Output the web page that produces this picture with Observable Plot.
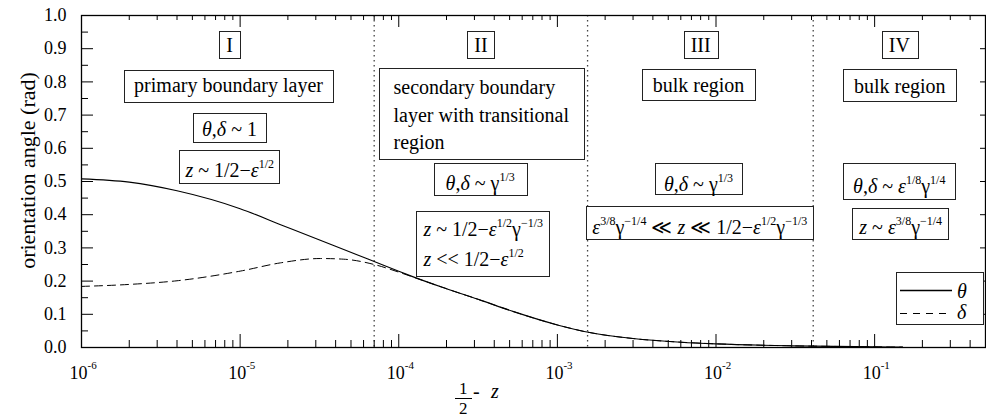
<!DOCTYPE html>
<html>
<head>
<meta charset="utf-8">
<script src="https://cdn.jsdelivr.net/npm/d3@7"></script>
<script src="https://cdn.jsdelivr.net/npm/@observablehq/plot@0.6"></script>
<style>
  html, body { margin: 0; padding: 0; background: #fff; }
  #wrap { position: relative; width: 986px; height: 417px; font-family: "Liberation Serif", "Times New Roman", serif; color: #000; }
  .ov { position: absolute; white-space: nowrap; }
</style>
</head>
<body>
<div id="wrap"></div>
<script>
// ---------------- data ----------------
const seriesNames = ["θ", "δ"];
const halfMinusZ  = [1e-6, 2e-6, 4e-6, 1e-5, 1.8e-5, 3.2e-5, 4.5e-5, 7e-5, 1e-4, 1.2e-4, 2e-4, 3.3e-4, 5.3e-4, 1e-3, 1.6e-3, 3e-3, 6e-3, 1e-2, 3e-2, 0.1, 0.15];
const thetaValues = [0.508, 0.498, 0.472, 0.418, 0.370, 0.323, 0.295, 0.259, 0.230, 0.215, 0.177, 0.142, 0.108, 0.068, 0.045, 0.027, 0.016, 0.011, 0.005, 0.002, 0.001];
const deltaValues = [0.184, 0.190, 0.201, 0.230, 0.255, 0.268, 0.266, 0.250, 0.227, 0.214, 0.177, 0.142, 0.108, 0.068, 0.045, 0.027, 0.016, 0.011, 0.005, 0.002, 0.001];
const regionBoundaries = [7.0e-5, 1.55e-3, 4.1e-2];
const xMajorTicks = [1e-6, 1e-5, 1e-4, 1e-3, 1e-2, 1e-1];
const xTickExponents = ["-6", "-5", "-4", "-3", "-2", "-1"];
const yMajorTicks = [0, 0.1, 0.2, 0.3, 0.4, 0.5, 0.6, 0.7, 0.8, 0.9, 1.0];
const yMinorTicks = [0.05, 0.15, 0.25, 0.35, 0.45, 0.55, 0.65, 0.75, 0.85, 0.95];
const yTickLabels = ["0.0", "0.1", "0.2", "0.3", "0.4", "0.5", "0.6", "0.7", "0.8", "0.9", "1.0"];
const yLabel = "orientation angle (rad)";
const xLabelNum = "1", xLabelDen = "2", xLabelRest = ["-", "z"];

// annotations: text (with *italic* and ^{superscript} markup), anchor in data space, box id
const annotations = [
  {text: "I", x: 8.57e-6, y: 0.909, box: "regI"},
  {text: "primary boundary layer", x: 8.45e-6, y: 0.788, box: "I-a"},
  {text: "*θ*,*δ* ~ 1", x: 8.57e-6, y: 0.655, box: "I-b"},
  {text: "*z* ~ 1/2−*ε*^{1/2}", x: 8.6e-6, y: 0.534, box: "I-c"},
  {text: "II", x: 3.30e-4, y: 0.909, box: "regII"},
  {text: "*θ*,*δ* ~ γ^{1/3}", x: 3.26e-4, y: 0.494, box: "II-b"},
  {text: "III", x: 8.0e-3, y: 0.909, box: "regIII"},
  {text: "bulk region", x: 7.76e-3, y: 0.788, box: "III-a"},
  {text: "*θ*,*δ* ~ γ^{1/3}", x: 7.76e-3, y: 0.492, box: "III-b"},
  {text: "*ε*^{3/8}γ^{−1/4} ≪ *z* ≪ 1/2−*ε*^{1/2}γ^{−1/3}", x: 7.9e-3, y: 0.360, box: "III-c"},
  {text: "IV", x: 0.143, y: 0.909, box: "regIV"},
  {text: "bulk region", x: 0.144, y: 0.786, box: "IV-a"},
  {text: "*θ*,*δ* ~ *ε*^{1/8}γ^{1/4}", x: 0.143, y: 0.486, box: "IV-b"},
  {text: "*z* ~ *ε*^{3/8}γ^{−1/4}", x: 0.146, y: 0.362, box: "IV-c"}
];
const leftAnnotations = [
  {text: "secondary boundary\nlayer with transitional\nregion", x: 9.27e-5, y: 0.707, box: "II-a"},
  {text: "*z* ~ 1/2−*ε*^{1/2}γ^{−1/3}", x: 1.43e-4, y: 0.362, box: "II-c"},
  {text: "*z* << 1/2−*ε*^{1/2}", x: 1.43e-4, y: 0.271, box: "II-c"}
];

// ---------------- styles / layout ----------------
const FONT = '"Liberation Serif", "Times New Roman", serif';
const W = 986, H = 417, mL = 81, mR = 1, mT = 15, mB = 70;
const fw = W - mL - mR, fh = H - mT - mB;
const SUP_SIZE = 12, SUP_RAISE = 9;
// box paddings: [horizontal, top, bottom]
const boxPads = {
  regI: [7, 3, 2], regII: [7, 3, 2], regIII: [7, 3, 2], regIV: [7, 3, 2],
  "I-a": [10, 4, 5], "I-b": [9, 5, 2], "I-c": [5, 7, 2],
  "II-a": [14.5, 7.5, 4.7], "II-b": [12, 7, 0], "II-c": [6, 5, 6],
  "III-a": [10.5, 5, 3], "III-b": [9, 8, -2], "III-c": [6, 8, 0],
  "IV-a": [10.5, 5.5, 3.4], "IV-b": [10, 10, 0.5], "IV-c": [6, 5.5, 0.5]
};

const xMinorTicks = xMajorTicks.flatMap(d => [2, 3, 4, 5, 6, 7, 8, 9].map(k => +(k * d).toPrecision(3))).filter(v => v <= 0.5);
const thetaRows = halfMinusZ.map((x, i) => ({x, v: thetaValues[i], s: seriesNames[0]}));
const deltaRows = halfMinusZ.map((x, i) => ({x, v: deltaValues[i], s: seriesNames[1]}));

const plot = Plot.plot({
  width: W, height: H,
  marginLeft: mL, marginRight: mR, marginTop: mT, marginBottom: mB,
  x: {type: "log", domain: [1e-6, 0.5], axis: null},
  y: {domain: [0, 1], axis: null},
  style: {fontFamily: FONT, fontSize: "18px", color: "#000", background: "#fff", overflow: "visible"},
  marks: [
    Plot.ruleX(regionBoundaries, {x: d => d, stroke: "#444", strokeWidth: 1.3, strokeDasharray: "1.4,3.6"}),
    Plot.line(thetaRows, {x: "x", y: "v", stroke: "#000", strokeWidth: 1.1, curve: "monotone-x"}),
    Plot.line(deltaRows, {x: "x", y: "v", stroke: "#000", strokeWidth: 1, strokeDasharray: "8,5", curve: "monotone-x"}),
    // inward ticks
    Plot.tickX(xMajorTicks, {x: d => d, insetTop: fh - 13, stroke: "#000"}),
    Plot.tickX(xMinorTicks, {x: d => d, insetTop: fh - 7, stroke: "#000"}),
    Plot.tickX(xMajorTicks, {x: d => d, insetBottom: fh - 12, stroke: "#000"}),
    Plot.tickX(xMinorTicks, {x: d => d, insetBottom: fh - 5, stroke: "#000"}),
    Plot.tickY(yMajorTicks, {y: d => d, insetRight: fw - 12, stroke: "#000"}),
    Plot.tickY(yMinorTicks, {y: d => d, insetRight: fw - 7, stroke: "#000"}),
    Plot.tickY(yMajorTicks, {y: d => d, insetLeft: fw - 5, stroke: "#000"}),
    Plot.frame({stroke: "#000", strokeWidth: 1.3}),
    // tick labels
    Plot.text(yMajorTicks, {y: d => d, frameAnchor: "left", text: (d, i) => yTickLabels[i], textAnchor: "end", dx: -15, fontSize: 18, fill: "#000"}),
    Plot.text(xMajorTicks, {x: d => d, frameAnchor: "bottom", text: () => "10", textAnchor: "end", lineAnchor: "bottom", dx: 6, dy: 31, fontSize: 18, fill: "#000"}),
    Plot.text(xMajorTicks, {x: d => d, frameAnchor: "bottom", text: (d, i) => xTickExponents[i], textAnchor: "start", lineAnchor: "bottom", dx: 6, dy: 21, fontSize: 11, fill: "#000"}),
    // y label
    Plot.text([yLabel], {frameAnchor: "left", text: d => d, rotate: -90, textAnchor: "middle", lineAnchor: "middle", dx: -54, dy: -11, fontSize: 22, fill: "#000"}),
    // annotations (must stay the last two marks)
    Plot.text(annotations, {x: "x", y: "y", text: "text", fontSize: 20, lineAnchor: "middle", textAnchor: "middle", fill: "#000"}),
    Plot.text(leftAnnotations, {x: "x", y: "y", text: "text", fontSize: 20, lineAnchor: "middle", textAnchor: "start", lineHeight: 1.39, fill: "#000"})
  ]
});

const wrap = document.getElementById("wrap");
wrap.append(plot);
const svg = plot;
const NS = "http://www.w3.org/2000/svg";

// --- render *italic* and ^{sup} markup into tspans ---
function parseMarkup(src) {
  const segs = [];
  let it = false, buf = "", i = 0;
  const flush = () => { if (buf) segs.push({t: buf, it, sup: false}); buf = ""; };
  while (i < src.length) {
    const c = src[i];
    if (c === "*") { flush(); it = !it; i++; }
    else if (c === "^" && src[i + 1] === "{") {
      flush();
      const j = src.indexOf("}", i);
      segs.push({t: src.slice(i + 2, j), it: false, sup: true});
      i = j + 1;
    } else { buf += c; i++; }
  }
  flush();
  return segs;
}
function renderMath(el, src) {
  if (!/[*^]/.test(src)) return;
  const segs = parseMarkup(src);
  el.textContent = "";
  let raised = false;
  for (const s of segs) {
    const ts = document.createElementNS(NS, "tspan");
    ts.textContent = s.t;
    if (s.it) ts.setAttribute("font-style", "italic");
    if (s.sup) ts.setAttribute("font-size", SUP_SIZE);
    if (s.sup && !raised) { ts.setAttribute("dy", -SUP_RAISE); raised = true; }
    else if (!s.sup && raised) { ts.setAttribute("dy", SUP_RAISE); raised = false; }
    el.appendChild(ts);
  }
}

const markGroups = [...svg.children].filter(n => n.tagName.toLowerCase() === "g");
const gS = markGroups[markGroups.length - 1];
const gC = markGroups[markGroups.length - 2];
const cTexts = [...gC.querySelectorAll("text")];
const sTexts = [...gS.querySelectorAll("text")];
cTexts.forEach((el, i) => renderMath(el, annotations[i].text));
sTexts.forEach((el, i) => renderMath(el, leftAnnotations[i].text));

// --- boxes around annotations ---
const svgBox = svg.getBoundingClientRect();
const entries = [
  ...cTexts.map((el, i) => ({el, box: annotations[i].box})),
  ...sTexts.map((el, i) => ({el, box: leftAnnotations[i].box}))
];
const gBoxes = document.createElementNS(NS, "g");
for (const [id, es] of d3.group(entries, e => e.box)) {
  let x0 = Infinity, y0 = Infinity, x1 = -Infinity, y1 = -Infinity;
  for (const e of es) {
    const r = e.el.getBoundingClientRect();
    x0 = Math.min(x0, r.left); x1 = Math.max(x1, r.right);
    y0 = Math.min(y0, r.top); y1 = Math.max(y1, r.bottom);
  }
  const [px, pt, pb] = boxPads[id] || [8, 3, 3];
  const rx = Math.round(x0 - svgBox.left - px) + 0.5;
  const ry = Math.round(y0 - svgBox.top - pt) + 0.5;
  const rw = Math.round(x1 - x0 + 2 * px);
  const rh = Math.round(y1 - y0 + pt + pb);
  const rect = document.createElementNS(NS, "rect");
  rect.setAttribute("x", rx); rect.setAttribute("y", ry);
  rect.setAttribute("width", rw); rect.setAttribute("height", rh);
  rect.setAttribute("fill", "#fff"); rect.setAttribute("stroke", "#222"); rect.setAttribute("stroke-width", 1);
  gBoxes.appendChild(rect);
}
gC.parentNode.insertBefore(gBoxes, gC);

// --- legend (inside the frame, lower right) ---
const legend = document.createElement("div");
legend.className = "ov";
legend.style.cssText += "left:896px;top:272px;width:88px;height:53px;box-sizing:border-box;border:1px solid #222;background:#fff;";
const dashes = [null, "7,6"];
const lg = d3.create("svg").attr("width", 86).attr("height", 51).style("display", "block").style("overflow", "visible");
seriesNames.forEach((name, i) => {
  const yl = 17.5 + i * 23;
  lg.append("line").attr("x1", 3).attr("x2", 55).attr("y1", yl).attr("y2", yl)
    .attr("stroke", "#000").attr("stroke-width", i === 0 ? 1.4 : 1).attr("stroke-dasharray", dashes[i]);
  lg.append("text").attr("x", 60).attr("y", 25 + i * 21).attr("font-family", FONT)
    .attr("font-size", 20).attr("font-style", "italic").text(name);
});
legend.append(lg.node());
wrap.append(legend);

// --- x-axis label: fraction 1/2 - z ---
const xl = document.createElement("div");
xl.className = "ov";
xl.style.cssText += `left:455px;top:379px;font-family:${FONT};font-size:17px;`;
const num = document.createElement("div");
num.textContent = xLabelNum;
num.style.cssText = "line-height:19px;height:19px;padding:0 4px;border-bottom:1px solid #000;text-align:center;";
const den = document.createElement("div");
den.textContent = xLabelDen;
den.style.cssText = "line-height:19px;height:19px;text-align:center;";
xl.append(num, den);
wrap.append(xl);
const minus = document.createElement("div");
minus.className = "ov";
minus.style.cssText += `left:473px;top:381px;line-height:20px;font-family:${FONT};font-size:20px;`;
minus.textContent = xLabelRest[0];
const zz = document.createElement("div");
zz.className = "ov";
zz.style.cssText += `left:491px;top:381px;line-height:20px;font-family:${FONT};font-size:20px;font-style:italic;`;
zz.textContent = xLabelRest[1];
wrap.append(minus, zz);
</script>
</body>
</html>
